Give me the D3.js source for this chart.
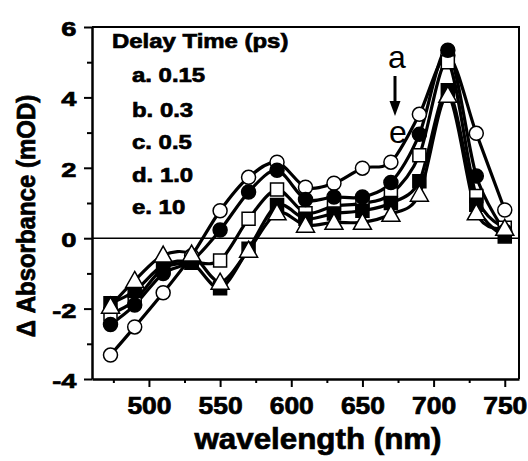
<!DOCTYPE html>
<html>
<head>
<meta charset="utf-8">
<script src="https://cdn.jsdelivr.net/npm/d3@7"></script>
<style>
  body { margin: 0; background: #fff; }
  svg text { font-family: "Liberation Sans", Arial, sans-serif; }
  svg text.heavy { stroke: #000; stroke-width: 0.7px; }
</style>
</head>
<body>
<svg width="528" height="461"></svg>
<script>
// **** data ****
var wavelengths = [473, 490, 510, 530, 550, 570, 590, 610, 630, 650, 670, 690, 710, 730, 750];
var seriesA = [-3.32, -2.52, -1.55, -0.5, 0.78, 1.73, 2.16, 1.45, 1.56, 1.99, 2.16, 3.52, 5.2, 2.98, 0.8];
var seriesB = [-2.45, -1.9, -1.0, -0.65, 0.23, 1.31, 1.93, 1.1, 1.17, 1.17, 1.58, 2.95, 5.34, 1.77, 0.2];
var seriesC = [-2.15, -1.77, -0.85, -0.7, -0.63, 0.55, 1.38, 0.71, 0.91, 0.99, 1.25, 2.36, 5.0, 1.2, 0.3];
var seriesD = [-1.85, -1.5, -0.77, -0.7, -1.42, -0.3, 0.94, 0.55, 0.7, 0.78, 1.0, 1.62, 4.2, 0.95, 0.05];
var seriesE = [-1.93, -1.2, -0.48, -0.45, -1.25, -0.34, 0.72, 0.37, 0.45, 0.45, 0.68, 1.25, 4.06, 0.72, 0.28];
var legendLabels = ["a. 0.15", "b. 0.3", "c. 0.5", "d. 1.0", "e. 10"];
var xTicks = [500, 550, 600, 650, 700, 750];
var xMinor = [475, 525, 575, 625, 675, 725];
var yTicks = [-4, -2, 0, 2, 4, 6];
var yMinor = [-3, -1, 1, 3, 5];

// marker style per series, drawn in this order (a, c, b, d, e)
var series = [
  { values: seriesA, shape: "circle", fill: "#fff" },
  { values: seriesC, shape: "square", fill: "#fff" },
  { values: seriesB, shape: "circle", fill: "#000" },
  { values: seriesD, shape: "square", fill: "#000" },
  { values: seriesE, shape: "triangle", fill: "#fff" }
];

var svg = d3.select("svg");

var x = d3.scaleLinear().domain([460, 760]).range([92, 519]);
var y = d3.scaleLinear().domain([-4, 6]).range([379, 27]);

// stretched text helper (the original lettering is wider and heavier than Arial)
function addText(px, py, txt, size, sx, anchor, weight) {
  return svg.append("text")
    .attr("class", weight ? null : "heavy")
    .attr("transform", "translate(" + px + "," + py + ") scale(" + sx + ",1)")
    .attr("text-anchor", anchor || "start")
    .style("font-size", size + "px")
    .style("font-weight", weight || "bold")
    .text(txt);
}

// **** axes ****
var xAxis = svg.append("g")
  .attr("transform", "translate(0," + y(-4) + ")")
  .call(d3.axisBottom(x).tickValues(xTicks).tickSize(8).tickPadding(11).tickSizeOuter(0));
xAxis.select(".domain").attr("stroke-width", 2.5);
xAxis.selectAll(".tick line").attr("stroke-width", 2);
xAxis.selectAll("text")
  .attr("class", "heavy")
  .attr("transform", "scale(1.15,1)")
  .style("font-size", "23px").style("font-weight", "bold").attr("fill", "#000");

svg.append("g")
  .attr("transform", "translate(0," + y(-4) + ")")
  .call(d3.axisBottom(x).tickValues(xMinor).tickSize(4).tickFormat("").tickSizeOuter(0))
  .call(function(g) { g.select(".domain").remove(); g.selectAll("line").attr("stroke-width", 2); });

var yAxis = svg.append("g")
  .attr("transform", "translate(" + x(460) + ",0)")
  .call(d3.axisLeft(y).tickValues(yTicks).tickSize(8).tickPadding(4).tickSizeOuter(0)
    .tickFormat(function(d) { return String(d); }));
yAxis.select(".domain").attr("stroke-width", 2.5);
yAxis.selectAll(".tick line").attr("stroke-width", 2);
yAxis.selectAll("text")
  .attr("class", "heavy")
  .attr("transform", "scale(1.3,1)")
  .attr("dy", "0.4em")
  .style("font-size", "21px").style("font-weight", "bold").attr("fill", "#000");

svg.append("g")
  .attr("transform", "translate(" + x(460) + ",0)")
  .call(d3.axisLeft(y).tickValues(yMinor).tickSize(5).tickFormat("").tickSizeOuter(0))
  .call(function(g) { g.select(".domain").remove(); g.selectAll("line").attr("stroke-width", 2); });

// top and right frame
svg.append("path")
  .attr("d", "M" + x(460) + "," + y(6) + "H" + x(760) + "V" + y(-4))
  .attr("fill", "none").attr("stroke", "#000").attr("stroke-width", 2);

// zero line
svg.append("line")
  .attr("x1", x(460)).attr("x2", x(760))
  .attr("y1", y(0)).attr("y2", y(0))
  .attr("stroke", "#000").attr("stroke-width", 1.5);

// **** lines ****
var line = d3.line()
  .x(function(d, i) { return x(wavelengths[i]); })
  .y(function(d) { return y(d); })
  .curve(d3.curveCardinal.tension(0.1));

series.forEach(function(s) {
  svg.append("path")
    .attr("d", line(s.values))
    .attr("fill", "none").attr("stroke", "#000").attr("stroke-width", 3.2);
});

// **** markers ****
function marker(shape) {
  if (shape === "circle") return d3.symbol().type(d3.symbolCircle).size(Math.PI * 7 * 7)();
  if (shape === "square") return "M-6.5,-6.5H6.5V6.5H-6.5Z";
  return "M0,-9L9,7H-9Z";
}

series.forEach(function(s) {
  svg.append("g").selectAll("path")
    .data(s.values)
    .enter().append("path")
    .attr("transform", function(d, i) { return "translate(" + x(wavelengths[i]) + "," + y(d) + ")"; })
    .attr("d", marker(s.shape))
    .attr("fill", s.fill)
    .attr("stroke", "#000").attr("stroke-width", 1.5);
});

// **** legend ****
addText(112, 48, "Delay Time (ps)", 21, 1.14);
var legendY = [82, 117, 149, 182, 214];
legendLabels.forEach(function(t, i) {
  addText(132, legendY[i], t, 21, 1.14);
});

// a -> e arrow
addText(397, 68, "a", 32, 1, "middle", "normal");
addText(398, 143, "e", 32, 1, "middle", "normal");
svg.append("line")
  .attr("x1", 395).attr("x2", 395).attr("y1", 76).attr("y2", 104)
  .attr("stroke", "#000").attr("stroke-width", 3);
svg.append("path")
  .attr("d", "M389.5,101L400.5,101L395,116Z")
  .attr("fill", "#000");

// **** axis titles ****
addText(318, 449, "wavelength (nm)", 29, 1.08, "middle");
svg.append("text")
  .attr("class", "heavy")
  .attr("transform", "translate(35,216) rotate(-90) scale(1,1.1)")
  .attr("text-anchor", "middle")
  .style("font-size", "24px").style("font-weight", "bold")
  .text("Δ Absorbance (mOD)");
</script>
</body>
</html>
